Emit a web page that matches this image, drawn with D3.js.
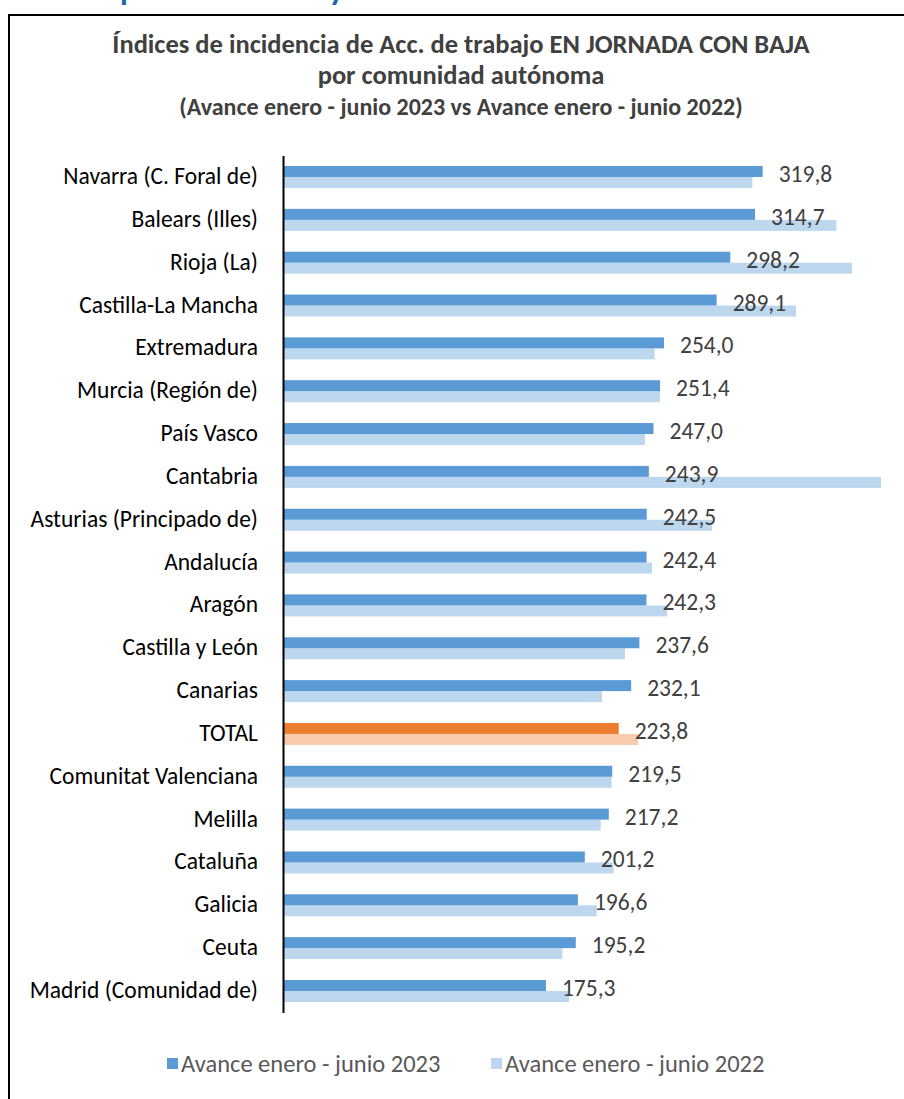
<!DOCTYPE html>
<html lang="es">
<head>
<meta charset="UTF-8">
<title>Índices de incidencia por comunidad autónoma</title>
<script src="https://d3js.org/d3.v7.min.js"></script>
<style>
    body { margin: 0; background: #fff; }
    svg { display: block; font-family: Carlito, Calibri, Lato, sans-serif; }
</style>
</head>
<body>
<script>
    // datos
    var comunidades = ["Navarra (C. Foral de)", "Balears (Illes)", "Rioja (La)", "Castilla-La Mancha",
        "Extremadura", "Murcia (Región de)", "País Vasco", "Cantabria", "Asturias (Principado de)",
        "Andalucía", "Aragón", "Castilla y León", "Canarias", "TOTAL", "Comunitat Valenciana",
        "Melilla", "Cataluña", "Galicia", "Ceuta", "Madrid (Comunidad de)"];
    var avance2023 = [319.8, 314.7, 298.2, 289.1, 254.0, 251.4, 247.0, 243.9, 242.5, 242.4,
        242.3, 237.6, 232.1, 223.8, 219.5, 217.2, 201.2, 196.6, 195.2, 175.3];
    var avance2022 = [312.9, 368.9, 379.3, 342.0, 247.8, 251.3, 241.3, 398.7, 286.0, 246.0,
        256.0, 228.0, 212.7, 236.7, 219.1, 211.8, 220.4, 209.1, 186.2, 190.7];
    var series = ["Avance enero - junio 2023", "Avance enero - junio 2022"];

    var width = 904, height = 1099;
    var svg = d3.select("body").append("svg")
        .attr("width", width)
        .attr("height", height);

    // encabezado azul cortado arriba
    svg.append("text")
        .attr("x", 120).attr("y", -0.5)
        .attr("fill", "#2563b0")
        .attr("font-weight", "bold")
        .attr("font-size", 32)
        .text("por comunidad y sector");

    // marco
    svg.append("path")
        .attr("d", "M9,1099V15H904")
        .attr("fill", "none")
        .attr("stroke", "#000")
        .attr("stroke-width", 2);

    // título
    var titulo = svg.append("g").attr("fill", "#404040").attr("font-weight", "bold").attr("text-anchor", "middle");
    titulo.append("text").attr("x", 461).attr("y", 53).attr("font-size", 26.5)
        .text("Índices de incidencia de Acc. de trabajo EN JORNADA CON BAJA");
    titulo.append("text").attr("x", 461).attr("y", 84).attr("font-size", 26.5)
        .text("por comunidad autónoma");
    titulo.append("text").attr("x", 461).attr("y", 115).attr("font-size", 24)
        .text("(Avance enero - junio 2023 vs Avance enero - junio 2022)");

    var x = d3.scaleLinear().domain([0, 400]).range([283, 883]);
    var y = d3.scaleBand().domain(comunidades).range([155.6, 1012.4]);
    var barH = 11;

    var colores = {
        normal: ["#5b9bd5", "#bdd7ee"],
        TOTAL: ["#ed7d31", "#f8cbad"]
    };
    function color(d, i) {
        return (d === "TOTAL" ? colores.TOTAL : colores.normal)[i];
    }

    var filas = svg.append("g").selectAll("g")
        .data(comunidades)
        .join("g")
        .attr("transform", function(d) { return "translate(0," + (y(d) + y.bandwidth() / 2) + ")"; });

    filas.append("rect")
        .attr("x", x(0))
        .attr("y", 0)
        .attr("height", barH)
        .attr("width", function(d, i) { return x(avance2022[i]) - x(0); })
        .attr("fill", function(d) { return color(d, 1); });

    filas.append("rect")
        .attr("x", x(0))
        .attr("y", -barH)
        .attr("height", barH)
        .attr("width", function(d, i) { return x(avance2023[i]) - x(0); })
        .attr("fill", function(d) { return color(d, 0); });

    // etiquetas de valor
    var fmt = d3.format(".1f");
    filas.append("text")
        .attr("x", function(d, i) { return x(avance2023[i]) + 16; })
        .attr("y", 5)
        .attr("font-size", 23.5)
        .attr("fill", "#404040")
        .text(function(d, i) { return fmt(avance2023[i]).replace(".", ","); });

    // eje vertical con categorías
    var eje = svg.append("g")
        .attr("transform", "translate(" + x(0) + ",0)")
        .call(d3.axisLeft(y).tickSize(0).tickPadding(25))
        .attr("font-family", null)
        .attr("font-size", null);
    eje.select(".domain").attr("stroke", "#000").attr("stroke-width", 2);
    eje.selectAll("text")
        .attr("font-size", 23.5)
        .attr("fill", "#000")
        .attr("dy", 7);

    // leyenda
    var leyX = [167, 491];
    var leyenda = svg.append("g").selectAll("g")
        .data(series)
        .join("g")
        .attr("transform", function(d, i) { return "translate(" + leyX[i] + ",1058)"; });
    leyenda.append("rect")
        .attr("width", 11).attr("height", 11)
        .attr("fill", function(d, i) { return colores.normal[i]; });
    leyenda.append("text")
        .attr("x", 14).attr("y", 14)
        .attr("font-size", 24.5)
        .attr("fill", "#595959")
        .text(function(d) { return d; });
</script>
</body>
</html>
